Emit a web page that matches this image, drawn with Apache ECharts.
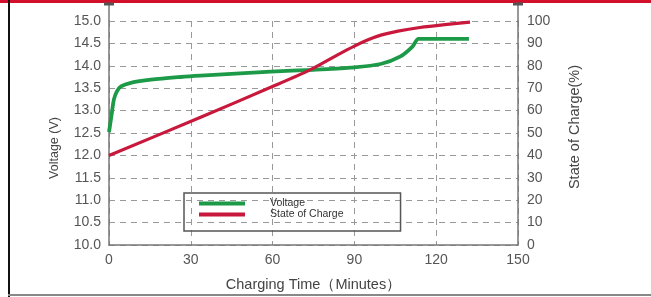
<!DOCTYPE html>
<html><head><meta charset="utf-8">
<script src="https://cdn.jsdelivr.net/npm/echarts@6/dist/echarts.min.js"></script>
<style>html,body{margin:0;padding:0;background:#fff}#c{width:651px;height:297px}</style>
</head><body><div id="c"></div>
<script>
const xTicks = [0, 30, 60, 90, 120, 150];
const voltageTime = [0, 1.1, 1.8, 2.9, 4.4, 8, 15.4, 26.3, 33.6, 59.3, 75, 88.6, 99.6, 106.9, 111.3, 113.5, 115, 132];
const voltageValues = [12.52, 12.97, 13.25, 13.43, 13.54, 13.62, 13.69, 13.75, 13.78, 13.87, 13.91, 13.96, 14.04, 14.21, 14.43, 14.6, 14.6, 14.6];
const socTime = [0, 33.6, 59.3, 73.9, 84, 90, 95, 100, 106, 114, 124, 132.4];
const socValues = [40, 57, 70.4, 78.3, 85, 88.8, 91.6, 93.8, 95.5, 97.1, 98.5, 99.5];
const seriesNames = ['Voltage', 'State of Charge'];

const chart = echarts.init(document.getElementById('c'), null, {renderer: 'canvas'});
const font = 'Liberation Sans, Arial, sans-serif';
const gridLine = {show: true, lineStyle: {color: '#999', type: [6, 5], width: 1}};
chart.setOption({
  animation: false,
  textStyle: {fontFamily: font},
  grid: {left: 109, right: 133, top: 21, bottom: 50},
  graphic: [
    {type: 'rect', shape: {x: 0, y: 0, width: 651, height: 3}, style: {fill: '#d3102c'}},
    {type: 'rect', shape: {x: 8, y: 0, width: 2, height: 297}, style: {fill: '#111'}},
    {type: 'rect', shape: {x: 8, y: 294, width: 643, height: 2}, style: {fill: '#888'}},
    {type: 'line', shape: {x1: 109, y1: 3, x2: 109, y2: 21}, style: {stroke: '#777', lineWidth: 1.5}},
    {type: 'line', shape: {x1: 104, y1: 4, x2: 114, y2: 4}, style: {stroke: '#555', lineWidth: 3}},
    {type: 'line', shape: {x1: 518, y1: 3, x2: 518, y2: 21}, style: {stroke: '#777', lineWidth: 1.5}},
    {type: 'line', shape: {x1: 513, y1: 4, x2: 523, y2: 4}, style: {stroke: '#555', lineWidth: 3}}
  ],
  legend: {
    left: 184, top: 193, orient: 'vertical',
    data: seriesNames,
    icon: 'rect', itemWidth: 46, itemHeight: 4, itemGap: 0,
    borderColor: '#555', borderWidth: 1.5,
    padding: [5, 57, 11, 15],
    textStyle: {fontSize: 10.5, color: '#333', padding: [0, 0, 0, 20], fontFamily: font}
  },
  xAxis: {
    type: 'value', min: xTicks[0], max: xTicks[xTicks.length - 1], interval: 30,
    name: 'Charging Time（Minutes）', nameLocation: 'middle', nameGap: 32,
    nameTextStyle: {fontSize: 14.5, color: '#444'},
    axisLine: {show: true, lineStyle: {color: '#777', width: 1.5}},
    axisTick: {show: false},
    axisLabel: {fontSize: 14, color: '#555', margin: 8},
    splitLine: gridLine
  },
  yAxis: [{
    type: 'value', min: 10, max: 15, interval: 0.5, position: 'left',
    name: 'Voltage (V)', nameLocation: 'middle', nameGap: 48, nameRotate: 90,
    nameTextStyle: {fontSize: 12.5, color: '#444', padding: [0, 30, 0, 0]},
    axisLine: {show: true, lineStyle: {color: '#777', width: 1.5}},
    axisTick: {show: false},
    axisLabel: {fontSize: 14, color: '#555', margin: 8, formatter: v => v.toFixed(1)},
    splitLine: gridLine
  }, {
    type: 'value', min: 0, max: 100, interval: 10, position: 'right',
    name: 'State of Charge(%)', nameLocation: 'middle', nameGap: 49, nameRotate: 90,
    nameTextStyle: {fontSize: 14.5, color: '#444', padding: [0, 0, 0, 12]},
    axisLine: {show: true, lineStyle: {color: '#777', width: 1.5}},
    axisTick: {show: false},
    axisLabel: {fontSize: 14, color: '#555', margin: 9},
    splitLine: {show: false}
  }],
  series: [{
    name: seriesNames[0], type: 'line', yAxisIndex: 0, smooth: 0.3, showSymbol: false,
    data: voltageTime.map((t, i) => [t, voltageValues[i]]),
    lineStyle: {color: '#1d9a48', width: 3.8}, itemStyle: {color: '#1d9a48'}
  }, {
    name: seriesNames[1], type: 'line', yAxisIndex: 1, smooth: 0.3, showSymbol: false,
    data: socTime.map((t, i) => [t, socValues[i]]),
    lineStyle: {color: '#c8193c', width: 3.2}, itemStyle: {color: '#c8193c'}
  }]
});
</script></body></html>
